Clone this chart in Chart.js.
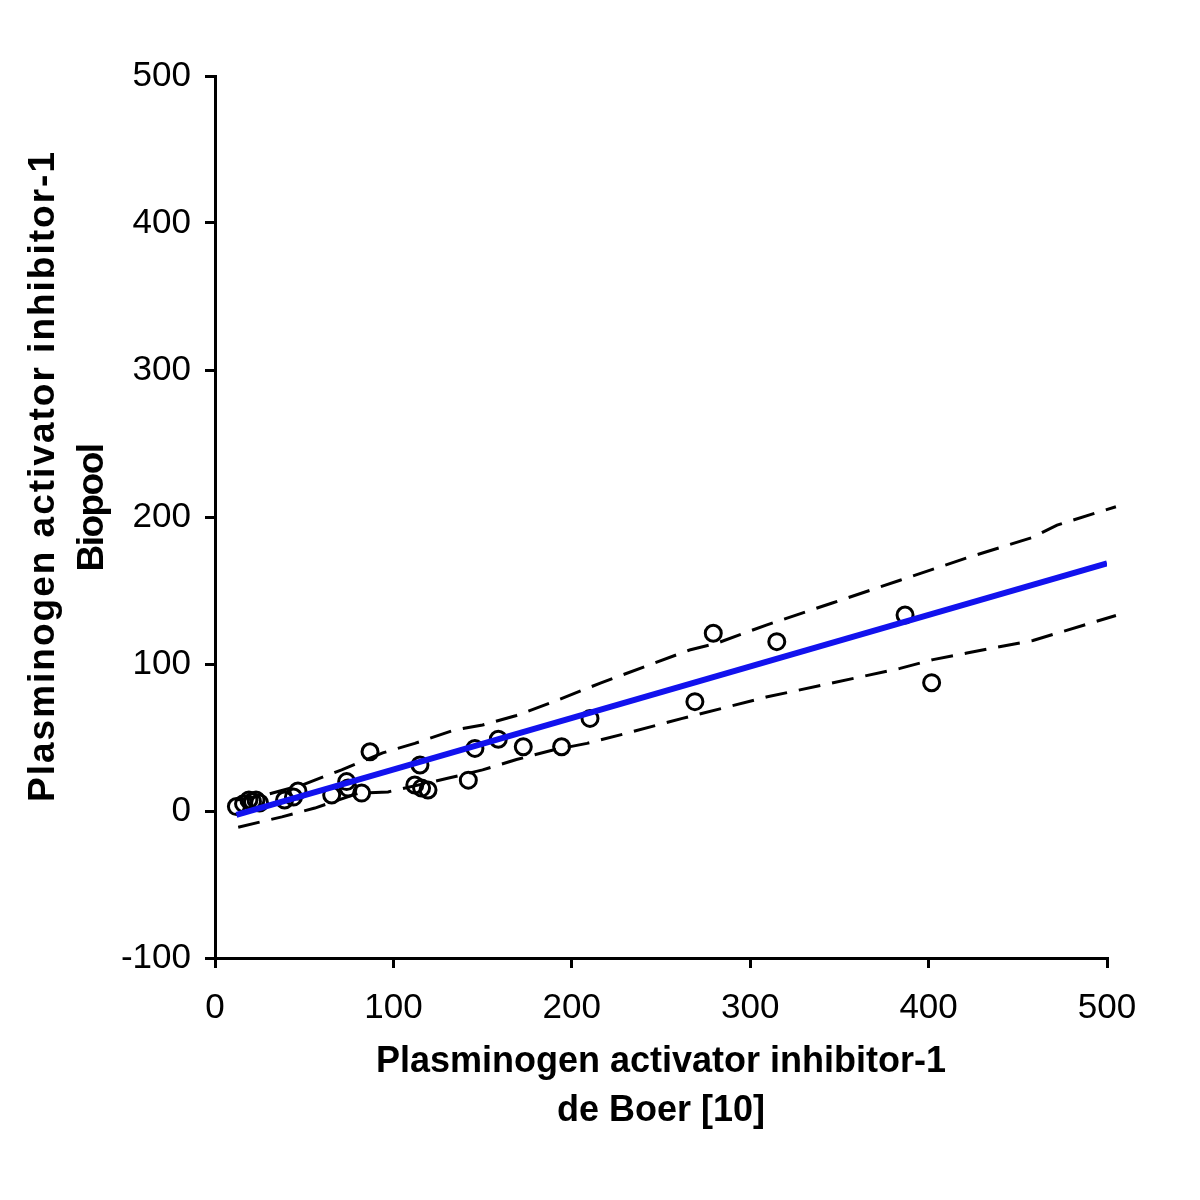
<!DOCTYPE html>
<html>
<head>
<meta charset="utf-8">
<script src="https://cdn.jsdelivr.net/npm/chart.js@4/dist/chart.umd.min.js"></script>
<style>
  html, body { margin: 0; padding: 0; background: #fff; }
  #wrap { width: 1200px; height: 1200px; }
</style>
</head>
<body>
<div id="wrap"><canvas id="chart" width="1200" height="1200"></canvas></div>
<script>
// ===== Data =====
const obsX = [12, 16, 19, 21, 23, 25, 39, 44, 46.5, 65.4, 73.8, 74.6, 82.2, 86.9, 112, 114.9, 115.8, 119.4,
  142, 145.7, 158.8, 172.8, 194.3, 210.2, 269, 279.3, 314.9, 386.8, 401.7];
const obsY = [3, 5, 7.5, 6.5, 7.5, 5.5, 7.5, 9.5, 13.6, 10.9, 20, 15.6, 12.2, 40.3, 17.7, 31.3, 15.6, 14.3,
  21, 42.6, 48.8, 43.7, 43.7, 63, 74.4, 120.9, 115.2, 133.3, 87.3];

// regression line
const fitX = [12, 500];
const fitY = [-2.7, 168.5];

// dashed confidence band
const upperX = [12, 28, 49, 71, 94, 112, 134, 150, 169, 188, 216, 266, 281, 309, 346, 384, 421, 458, 472, 505];
const upperY = [7.5, 10.9, 17.7, 28, 39.5, 46, 55, 58.5, 65, 73.5, 87, 109.5, 114, 126.5, 141.5, 157, 172, 186, 194.5, 207];
const lowerX = [13, 37.5, 56, 80, 97, 131, 150, 169, 189.5, 208.5, 231, 262, 309, 384, 402.5, 421.5, 458.5, 505];
const lowerY = [-11, -4, 2, 12, 13, 22.4, 28, 35, 41.5, 46, 53, 63, 77.5, 97, 103, 107.5, 116, 133];

const xTicks = [0, 100, 200, 300, 400, 500];
const yTicks = [-100, 0, 100, 200, 300, 400, 500];

const xTitle = ['Plasminogen activator inhibitor-1', 'de Boer [10]'];
const yTitle = ['Plasminogen activator inhibitor-1', 'Biopool'];

const FONT = "'Liberation Sans', Arial, sans-serif";
const toPts = (xs, ys) => xs.map((x, i) => ({ x, y: ys[i] }));

// ===== Axis titles (drawn by hand, the y one is off-centre) =====
const axisTitles = {
  id: 'axisTitles',
  afterDraw(chart) {
    const { ctx, chartArea } = chart;
    const cx = (chartArea.left + chartArea.right) / 2;
    ctx.save();
    ctx.fillStyle = '#000';
    ctx.textAlign = 'center';
    ctx.textBaseline = 'middle';
    ctx.font = `bold 36px ${FONT}`;
    ctx.fillText(xTitle[0], cx, 1062);
    ctx.fillText(xTitle[1], cx, 1111);

    ctx.font = `bold 37px ${FONT}`;
    [[yTitle[0], 44, 476, '2px'], [yTitle[1], 93, 508, '-1.5px']].forEach(([t, x, y, sp]) => {
      ctx.save();
      ctx.letterSpacing = sp;
      ctx.translate(x, y);
      ctx.rotate(-Math.PI / 2);
      ctx.fillText(t, 0, 0);
      ctx.restore();
    });
    ctx.restore();
  }
};

const axisStyle = {
  grid: { display: true, drawOnChartArea: false, drawTicks: true, tickLength: 10, color: '#000', lineWidth: 3 },
  border: { display: true, color: '#000', width: 3 },
  ticks: { color: '#000', font: { family: FONT, size: 35 }, stepSize: 100 }
};

new Chart(document.getElementById('chart'), {
  type: 'scatter',
  data: {
    datasets: [
      {
        type: 'line', data: toPts(fitX, fitY), borderColor: '#1212ee', borderWidth: 6,
        pointRadius: 0, fill: false, order: 0
      },
      {
        data: toPts(obsX, obsY), pointStyle: 'circle', pointRadius: 8,
        pointBorderWidth: 3, borderColor: '#000', backgroundColor: 'rgba(0,0,0,0)', order: 1
      },
      {
        type: 'line', data: toPts(upperX, upperY), borderColor: '#000', borderWidth: 3,
        borderDash: [22, 12], pointRadius: 0, fill: false, clip: false, order: 2
      },
      {
        type: 'line', data: toPts(lowerX, lowerY), borderColor: '#000', borderWidth: 3,
        borderDash: [22, 12], pointRadius: 0, fill: false, clip: false, order: 2
      }
    ]
  },
  options: {
    responsive: false,
    animation: false,
    layout: { padding: { top: 76, right: 93, left: 0, bottom: 0 } },
    plugins: { legend: { display: false }, tooltip: { enabled: false } },
    scales: {
      x: {
        ...axisStyle, type: 'linear', min: 0, max: 500,
        ticks: { ...axisStyle.ticks, padding: 19, callback: v => xTicks.includes(v) ? v : '' },
        afterFit: s => { s.height = 242; }
      },
      y: {
        ...axisStyle, type: 'linear', min: -100, max: 500,
        ticks: { ...axisStyle.ticks, padding: 14, callback: v => yTicks.includes(v) ? v : '' },
        afterFit: s => { s.width = 215; }
      }
    }
  },
  plugins: [axisTitles]
});
</script>
</body>
</html>
